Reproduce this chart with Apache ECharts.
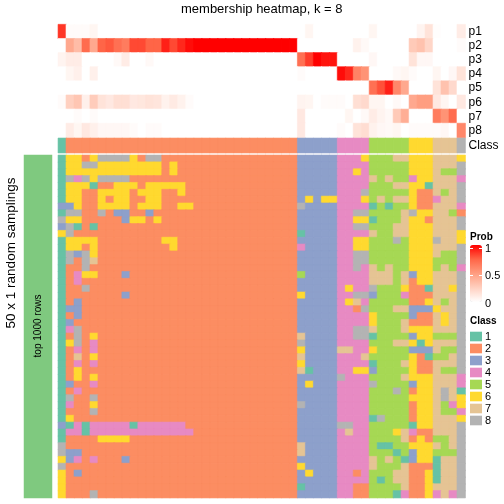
<!DOCTYPE html>
<html><head><meta charset="utf-8">
<style>html,body{margin:0;padding:0;background:#fff}#c{width:504px;height:504px}</style>
<script src="https://cdn.jsdelivr.net/npm/echarts@6/dist/echarts.min.js"></script>
</head><body><div id="c"></div>
<script>
const FONT = '"Liberation Sans", Arial, sans-serif';
const probLabels = ['p1','p2','p3','p4','p5','p6','p7','p8'];
const classLabels = ['1','2','3','4','5','6','7','8'];
const classColors = ['#66C2A5','#FC8D62','#8DA0CB','#E78AC3','#A6D854','#FFD92F','#E5C494','#B3B3B3'];
const probColors = ['#FFFFFF','#FFD0C0','#FF9E81','#FF6547','#FF0000'];
const probTicks = ['1','0.5','0'];

// membership probability per column (51 columns)
const p1 = [.87,.02,.02,.02,.05,0,0,0,0,0,0,0,0,0,0,0,0,0,0,0,0,0,0,0,0,0,0,0,0,0, 0,.05,0,0,0, 0,0,0,0, .05,0,0,0,0, 0,.06,.15, .01,0,0, .1];
const p2 = [0,.45,.35,.72,.45,.75,.78,.7,.65,.82,.82,.75,.75,.92,.82,.9,.97,1,1,1,1,1,1,1,1,1,1,1,1,1, 0,0,0,0,0, 0,0,.07,.03, 0,0,0,0,0, .28,.32,.22, 0,0,0, .02];
const p3 = [.06,.1,.1,0,0,0,0,.03,.1,0,0,.03,0,0,0,0,0,0,0,0,0,0,0,0,0,0,0,0,0,0, .7,.85,1,.95,.95, 0,0,0,0, .04,0,0,0,0, .15,.04,.04, 0,0,0, 0];
const p4 = [0,.05,.08,0,.08,0,0,0,0,0,0,0,0,0,0,0,0,0,0,0,0,0,0,0,0,0,0,0,0,0, .02,0,0,0,0, .97,.9,.62,.55, 0,0,0,.03,.05, .02,0,0, .05,0,.04, .15];
const p5 = [0,0,0,0,0,0,0,0,0,0,0,0,0,0,0,0,0,0,0,0,0,0,0,0,0,0,0,0,0,0, 0,0,0,0,0, 0,0,0,0, .7,.8,.92,.6,.45, 0,0,0, .15,.32,.2, 0];
const p6 = [.02,.25,.3,.08,.27,.15,.12,.17,.17,.12,.13,.15,.14,.07,.11,.07,.02,0,0,0,0,0,0,0,0,0,0,0,0,0, .06,.05,0,.02,.02, .02,0,.17,.2, .05,.05,0,.03,0, .45,.5,.5, .12,.05,0, .12];
const p7 = [0,0,.02,0,.02,0,0,0,0,0,0,0,0,0,0,0,0,0,0,0,0,0,0,0,0,0,0,0,0,0, .12,0,0,0,0, 0,.05,0,.03, .1,.06,.03,.28,.42, 0,0,0, .65,.55,.72, 0];
const p8 = [0,.1,.05,.12,.08,.04,.04,.04,.04,.02,0,.02,.02,0,0,0,0,0,0,0,0,0,0,0,0,0,0,0,0,0, .12,0,0,0,0, .02,0,.15,.18, .07,.04,.03,.05,0, .02,.02,.02, .02,.04,0, .6];

// class of each sample, in column order
const classRow = '122222222222222222222222222222 33333 4444 55555 666 777 8';

// class per random sampling: left columns (the rest of the left block is class 2)
const leftRows = ['1662688886288','166886666666626','166666666666626','184868888','1666122666266666','1662266662666226','1662262662266','33622666626662266','188228233223','8662222236626','38121','68','166662222222266','166262222222226','18386','18287','1228','124662223','124','1228','122222223','123','133','123','13','148','12826','16824','12424','12726','12424','126','12626','13224','124','18228','14226','12228','16','3141444441444444','14414444444444444','122226666','8','833','634242223','8','623','6','6','62228'];
// right columns
const rightRows = [
'33333 4446 55577 666 777 6','33333 4444 55555 666 777 8','33333 4464 55555 666 755 8','33333 4444 75755 466 777 4','33333 4444 55577 661 777 8',
'33333 4448 55555 622 757 8','36366 4446 57577 622 477 8','83333 4444 15155 622 777 4','33333 4488 55557 866 775 2','33333 4466 15557 662 777 8',
'33333 4488 55577 666 777 8','13333 4444 75577 666 777 6','33333 4466 55585 666 877 6','43333 4466 55555 666 777 8','33333 4488 55555 666 755 8',
'33333 4488 55555 666 555 8','33333 4484 75755 666 575 4','53333 4444 77757 366 777 8','33333 4444 77757 266 777 8','33333 4644 85556 221 776 8',
'63333 4488 35554 222 777 8','33333 4674 55555 226 757 8','33333 4428 55577 333 677 8','33333 4444 65555 322 767 8','33333 4444 65557 222 767 8',
'33333 4488 75557 666 777 8','73333 4488 15555 366 555 8','83333 4444 55577 616 777 8','63333 7744 65555 333 755 8','73333 4447 55555 621 557 8',
'63333 4444 15557 622 777 8','71333 4466 35555 622 755 8','33333 8444 55557 666 777 4','36333 4444 85555 366 777 4','33333 4444 55585 266 787 1',
'33333 4444 55555 666 787 6','83333 4444 55555 266 754 6','33333 4444 55555 266 755 4','33333 4444 18555 266 777 6','33333 8844 55555 166 777 8',
'33333 4744 55567 422 777 8','33333 4444 55557 262 557 8','73333 4444 51155 666 757 8','73333 4444 55515 366 555 8','33333 4444 75751 366 177 8',
'63333 4444 75557 222 177 8','36333 4424 55577 226 177 8','33333 4444 51577 226 177 8','13333 4422 55557 226 777 8','33333 4422 55514 226 474 8'];

const probs = [p1,p2,p3,p4,p5,p6,p7,p8];
const clean = s => s.replace(/ /g,'');
const matrix = leftRows.map((l,i)=> (clean(l).padEnd(30,'2') + clean(rightRows[i])).split('').map(Number));
const classes = clean(classRow).split('').map(Number);
const cols = classes.map((_,i)=>String(i));
const rowIds = matrix.map((_,i)=>String(i));

const seam = c => ({borderColor:c,borderWidth:0.6});
const probData=[]; probs.forEach((r,y)=>r.forEach((v,x)=>probData.push({value:[x,y,v],itemStyle:seam(echarts.color.lerp(v,probColors))})));
const matData=[]; matrix.forEach((r,y)=>r.forEach((v,x)=>matData.push({value:[x,y,v],itemStyle:seam(classColors[v-1])})));
const clsData=classes.map((v,x)=>({value:[x,0,v],itemStyle:seam(classColors[v-1])}));

const L=58.3,W=406.9;
const hideX = i=>({type:'category',gridIndex:i,data:cols,show:false});
const chart=echarts.init(document.getElementById('c'),null,{renderer:'canvas'});
const labelAxis=(i,data)=>({type:'category',gridIndex:i,data,inverse:true,position:'right',
  axisLine:{show:false},axisTick:{show:false},splitLine:{show:false},
  axisLabel:{show:true,margin:3.3,fontFamily:FONT,fontSize:12,color:'#000',interval:0}});
chart.setOption({
  animation:false,backgroundColor:'#fff',
  title:{text:'membership heatmap, k = 8',left:181,top:3,padding:0,
    textStyle:{fontFamily:FONT,fontSize:13,fontWeight:'normal',color:'#000'}},
  grid:[
    {left:L,top:24.6,width:W,height:113},
    {left:L,top:138.3,width:W,height:14.4},
    {left:L,top:155.3,width:W,height:342.4},
    {left:24,top:155,width:28,height:343}
  ],
  xAxis:[hideX(0),hideX(1),hideX(2),{type:'category',gridIndex:3,data:['a'],show:false}],
  yAxis:[labelAxis(0,probLabels),labelAxis(1,['Class']),
    {type:'category',gridIndex:2,data:rowIds,inverse:true,show:false},
    {type:'category',gridIndex:3,data:['a'],show:false}],
  visualMap:[
    {type:'continuous',seriesIndex:0,min:0,max:1,show:true,left:470,top:245,itemWidth:12,itemHeight:57,
      text:null,calculable:false,showLabel:false,padding:0,hoverLink:false,inRange:{color:probColors},
      textStyle:{color:'rgba(0,0,0,0)',fontSize:1},formatter:()=>''},
    {type:'piecewise',seriesIndex:[1,2],show:true,left:470,top:331,orient:'vertical',padding:0,inverse:true,align:'left',
      itemWidth:12,itemHeight:9.6,itemGap:1,itemSymbol:'rect',hoverLink:false,selectedMode:false,
      textGap:3,textStyle:{fontFamily:FONT,fontSize:11,color:'#000'},
      pieces:classLabels.map((t,i)=>({value:i+1,label:t,color:classColors[i]}))}
  ],
  series:[
    {type:'heatmap',xAxisIndex:0,yAxisIndex:0,data:probData,progressive:0,silent:true},
    {type:'heatmap',xAxisIndex:1,yAxisIndex:1,data:clsData,progressive:0,silent:true},
    {type:'heatmap',xAxisIndex:2,yAxisIndex:2,data:matData,progressive:0,silent:true},
    {type:'heatmap',xAxisIndex:3,yAxisIndex:3,data:[[0,0,1]],progressive:0,silent:true,itemStyle:{color:'#7FC97F'}}
  ],
  graphic:[
    {type:'text',z:100,rotation:Math.PI/2,x:11,y:253,style:{text:'50 x 1 random samplings',font:'13.5px '+FONT,fill:'#000',textAlign:'center',textVerticalAlign:'middle'}},
    {type:'text',z:100,rotation:Math.PI/2,x:38,y:326,style:{text:'top 1000 rows',font:'10px '+FONT,fill:'#000',textAlign:'center',textVerticalAlign:'middle'}},
    {type:'text',z:100,x:470,y:232,style:{text:'Prob',font:'bold 10px '+FONT,fill:'#000'}},
    {type:'text',z:100,x:470,y:316,style:{text:'Class',font:'bold 10px '+FONT,fill:'#000'}},
    {type:'text',z:100,x:485,y:249,style:{text:probTicks[0],font:'11px '+FONT,fill:'#000',textVerticalAlign:'middle'}},
    {type:'text',z:100,x:485,y:276,style:{text:probTicks[1],font:'11px '+FONT,fill:'#000',textVerticalAlign:'middle'}},
    {type:'text',z:100,x:485,y:304,style:{text:probTicks[2],font:'11px '+FONT,fill:'#000',textVerticalAlign:'middle'}},
    {type:'rect',shape:{x:470,y:248,width:3,height:1},style:{fill:'#fff'},z:100},
    {type:'rect',shape:{x:479,y:248,width:3,height:1},style:{fill:'#fff'},z:100},
    {type:'rect',shape:{x:470,y:275,width:3,height:1},style:{fill:'#fff'},z:100},
    {type:'rect',shape:{x:479,y:275,width:3,height:1},style:{fill:'#fff'},z:100}
  ]
});
</script></body></html>
